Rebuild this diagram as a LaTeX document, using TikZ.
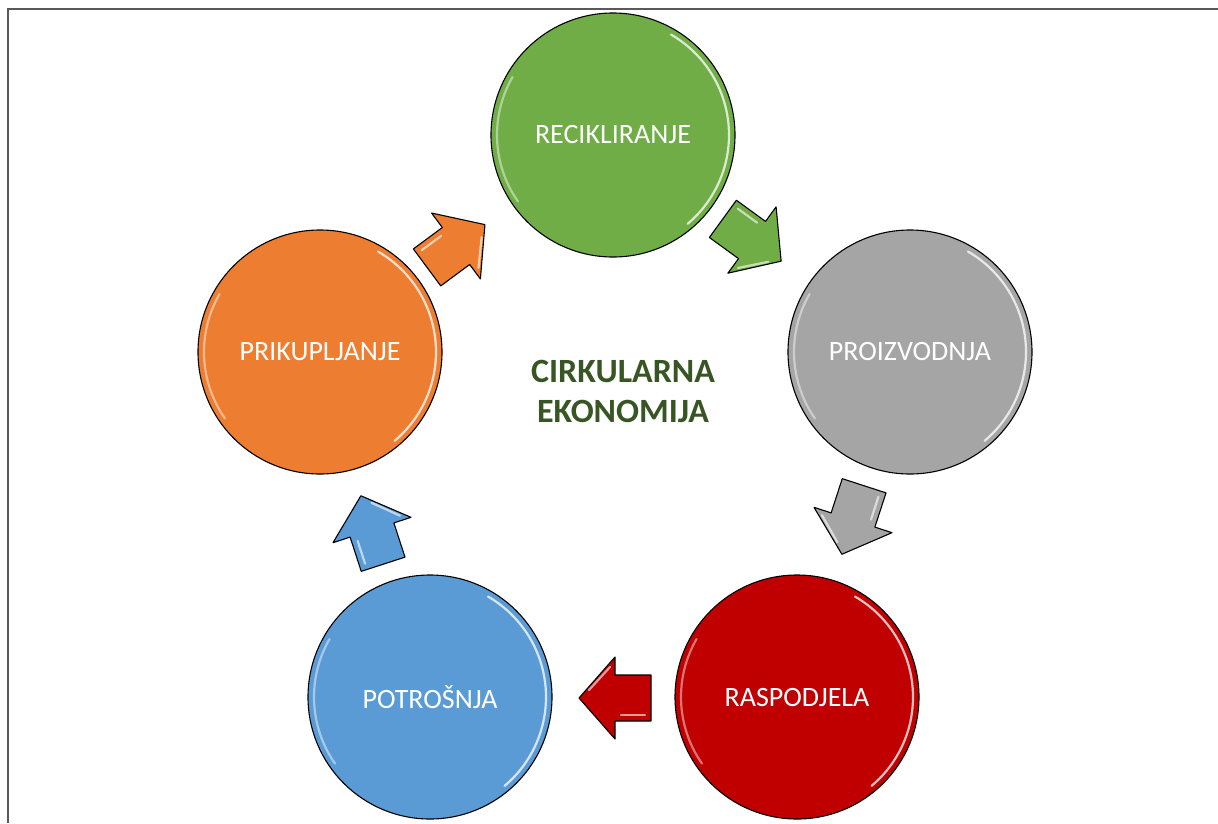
\documentclass[tikz,border=0pt]{standalone}
\usepackage{fontspec}
\setmainfont{Carlito}
\definecolor{cgreen}{HTML}{70AD47}
\definecolor{cgray}{HTML}{A5A5A5}
\definecolor{cred}{HTML}{C00000}
\definecolor{cblue}{HTML}{5B9BD5}
\definecolor{corange}{HTML}{ED7D31}
\definecolor{ctitle}{HTML}{375623}
\definecolor{cframe}{HTML}{595959}
\tikzset{
  ball/.style={circle, draw=black, line width=1.1pt, minimum size=244pt, inner sep=0pt,
    text=white, font=\fontsize{28}{32}\selectfont},
  blockarrow/.style={draw=black, line width=1.1pt, line join=round},
  gloss/.style={white, line width=2.2pt, opacity=0.75, line cap=round},
  title/.style={text=ctitle, font=\bfseries\fontsize{34}{40}\selectfont, align=center}
}
\newcommand\fatarrow[3]{% center, angle, colour
  \begin{scope}[shift={#1}, rotate=#2]
    \draw[blockarrow, fill=#3] (-36,-23) -- (0,-23) -- (0,-41) -- (36,0) -- (0,41) -- (0,23) -- (-36,23) -- cycle;
    \draw[gloss, opacity=0.6] (-30,-17) -- (-6,-17);
    \draw[gloss, opacity=0.6] (5,31) -- (26,8);
  \end{scope}}
\begin{document}
\begin{tikzpicture}[x=1pt,y=-1pt]
\useasboundingbox (0,0) rectangle (1218,823);
\draw[cframe, line width=2.5pt] (8,823) -- (8,9) -- (1218,9);

\node[ball, fill=cgreen]  (rec) at (613,135) {RECIKLIRANJE};
\node[ball, fill=cgray]   (pro) at (910,352) {PROIZVODNJA};
\node[ball, fill=cred]    (ras) at (797,697) {RASPODJELA};
\node[ball, fill=cblue]   (pot) at (430,697) {POTROŠNJA};
\node[ball, fill=corange] (pri) at (320,352) {PRIKUPLJANJE};

\foreach \c in {rec,pro,ras,pot,pri}{
  \draw[gloss] ([shift={(\c.center)}]-50:116pt) arc[start angle=-50, end angle=60, radius=116pt];
  \draw[gloss, opacity=0.45] ([shift={(\c.center)}]150:116pt) arc[start angle=150, end angle=215, radius=116pt];
}

\fatarrow{(456,246)}{36.5}{corange}
\fatarrow{(752,240)}{-36}{cgreen}
\fatarrow{(853,520)}{-108}{cgray}
\fatarrow{(615,698)}{180}{cred}
\fatarrow{(372,530)}{108}{cblue}

\node[title] (t) at (623,391) {CIRKULARNA\\EKONOMIJA};
\end{tikzpicture}
\end{document}
